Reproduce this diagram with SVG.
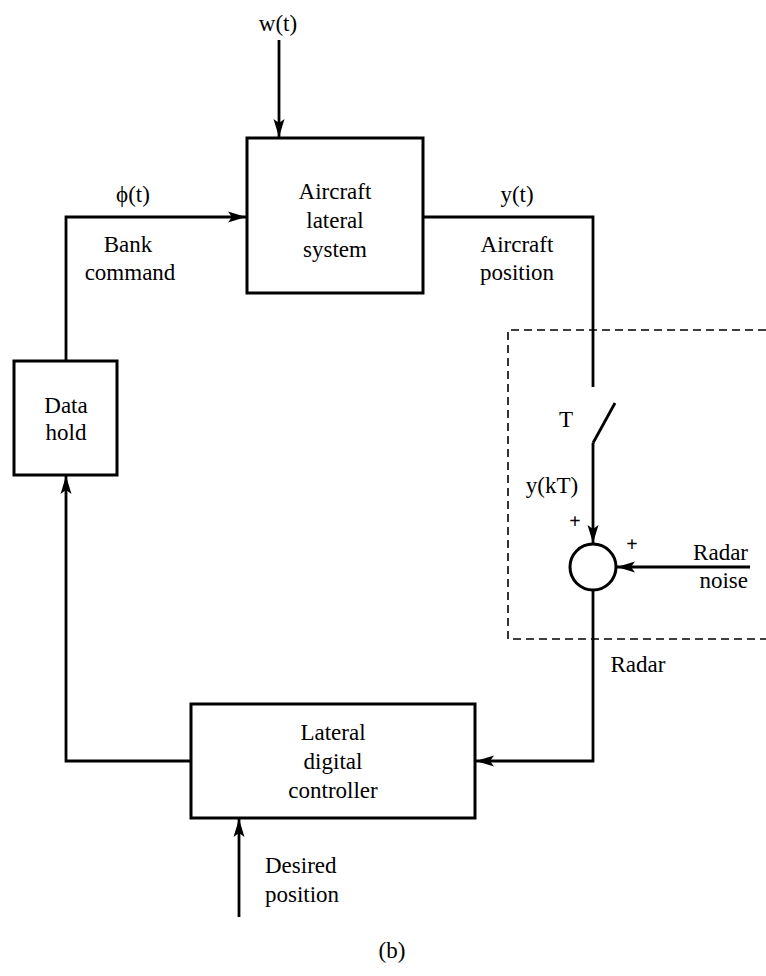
<svg xmlns="http://www.w3.org/2000/svg" width="766" height="976" viewBox="0 0 766 976">
<style>
  .box { fill: none; stroke: #000; stroke-width: 3; }
  .wire { fill: none; stroke: #000; stroke-width: 2.8; }
  .dash { fill: none; stroke: #000; stroke-width: 1.6; stroke-dasharray: 8 5; }
  text { font-family: "Liberation Serif", "Times New Roman", serif; font-size: 23px; fill: #000; }
  .c { text-anchor: middle; }
  .r { text-anchor: end; }
  .pm { font-size: 20px; font-weight: bold; }
</style>
<defs>
  <marker id="arr" markerUnits="userSpaceOnUse" markerWidth="20" markerHeight="14" refX="18" refY="7" orient="auto">
    <path d="M0,1.5 L18,7 L0,12.5 L4,7 Z" fill="#000"/>
  </marker>
</defs>
<rect width="766" height="976" fill="#fff"/>

<g id="connectors">
  <line class="wire" x1="279" y1="40" x2="279" y2="137" marker-end="url(#arr)"/>
  <polyline class="wire" points="66,361 66,217 246,217" marker-end="url(#arr)"/>
  <polyline class="wire" points="423,217 593,217 593,387"/>
  <line class="wire" x1="593" y1="443" x2="615" y2="403"/>
  <line class="wire" x1="593" y1="443" x2="593" y2="543" marker-end="url(#arr)"/>
  <line class="wire" x1="750" y1="567" x2="617" y2="567" marker-end="url(#arr)"/>
  <polyline class="wire" points="593,590 593,761 476,761" marker-end="url(#arr)"/>
  <polyline class="wire" points="191,761 66,761 66,476" marker-end="url(#arr)"/>
  <line class="wire" x1="239" y1="917" x2="239" y2="819" marker-end="url(#arr)"/>
  <path class="dash" d="M766,330 H508 V639 H766"/>
</g>

<g id="aircraft">
  <rect class="box" x="247" y="138" width="176" height="155"/>
  <text class="c" x="335" y="199">Aircraft</text>
  <text class="c" x="335" y="228">lateral</text>
  <text class="c" x="335" y="257">system</text>
</g>

<g id="datahold">
  <rect class="box" x="14" y="361" width="103" height="114"/>
  <text class="c" x="66" y="413">Data</text>
  <text class="c" x="66" y="440">hold</text>
</g>

<g id="controller">
  <rect class="box" x="191" y="704" width="284" height="114"/>
  <text class="c" x="333" y="740">Lateral</text>
  <text class="c" x="333" y="769">digital</text>
  <text class="c" x="333" y="798">controller</text>
</g>

<g id="summer">
  <circle class="box" cx="593" cy="567" r="23"/>
</g>

<g id="labels">
  <text class="c" x="278" y="31">w(t)</text>
  <text class="c" x="133" y="202">ϕ(t)</text>
  <text class="c" x="128" y="252">Bank</text>
  <text class="c" x="130" y="280">command</text>
  <text class="c" x="517" y="202">y(t)</text>
  <text class="c" x="517" y="252">Aircraft</text>
  <text class="c" x="517" y="280">position</text>
  <text class="c" x="566" y="427">T</text>
  <text class="c" x="552" y="493">y(kT)</text>
  <text class="c pm" x="575" y="528">+</text>
  <text class="c pm" x="632" y="551">+</text>
  <text class="r" x="748" y="560">Radar</text>
  <text class="r" x="748" y="588">noise</text>
  <text class="c" x="638" y="672">Radar</text>
  <text x="265" y="873">Desired</text>
  <text x="265" y="902">position</text>
  <text class="c" x="392" y="958">(b)</text>
</g>
</svg>
